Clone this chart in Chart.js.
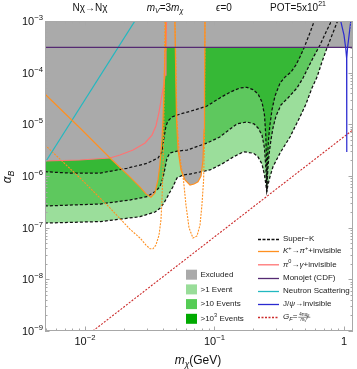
<!DOCTYPE html>
<html>
<head>
<meta charset="utf-8">
<script src="https://cdn.jsdelivr.net/npm/chart.js@4.4.1/dist/chart.umd.min.js"></script>
<style>
  html, body { margin: 0; padding: 0; background: #fff; }
  #wrap { width: 357px; height: 369px; }
</style>
</head>
<body>
<div id="wrap"><canvas id="c" width="357" height="369"></canvas></div>
<script>
// axis ranges (m_chi in GeV, alpha_B)
const massMin = 0.00491, massMax = 1.174;
const alphaMin = 1e-9, alphaMax = 1e-3;
const yTickPowers = [-9, -8, -7, -6, -5, -4, -3];
const xTickValues = [0.01, 0.1, 1];
const xTickLabels = [['10', '−2'], ['10', '−1'], ['1', '']];

// Super-K event contours
const sk1Mass = [0.0049, 0.0131, 0.0266, 0.0347, 0.0379, 0.0407, 0.0427, 0.0453, 0.0478, 0.0513, 0.0571, 0.0647, 0.0923, 0.1143, 0.1407, 0.168, 0.2008, 0.217, 0.2327, 0.2432, 0.2498, 0.2532, 0.2588, 0.268, 0.283, 0.321, 0.383, 0.418, 0.457, 0.509, 0.566, 0.619, 0.676, 0.739, 0.822, 0.899, 0.932];
const sk1Alpha = [1.23e-7, 1.31e-7, 1.63e-7, 2.01e-7, 2.37e-7, 3.0e-7, 3.7e-7, 4.9e-7, 6.2e-7, 9.15e-7, 1.05e-6, 1.09e-6, 1.31e-6, 1.71e-6, 2.36e-6, 2.95e-6, 2.75e-6, 2.33e-6, 1.71e-6, 1.05e-6, 6.7e-7, 4.97e-7, 6.7e-7, 9.6e-7, 1.51e-6, 2.79e-6, 5.69e-6, 8.9e-6, 1.39e-5, 2.48e-5, 5.05e-5, 8.2e-5, 1.61e-4, 3.0e-4, 5.9e-4, 1.05e-3, 1.37e-3];

const sk10Mass = [0.0049, 0.0131, 0.0222, 0.0301, 0.0353, 0.0379, 0.0400, 0.0415, 0.043, 0.0453, 0.0523, 0.0614, 0.0875, 0.110, 0.132, 0.149, 0.178, 0.2018, 0.217, 0.2327, 0.2432, 0.2498, 0.2532, 0.258, 0.2634, 0.273, 0.283, 0.2985, 0.326, 0.3694, 0.4335, 0.4826, 0.527, 0.5763, 0.653, 0.739, 0.822, 0.853];
const sk10Alpha = [2.63e-7, 2.87e-7, 3.43e-7, 3.98e-7, 5.13e-7, 6.2e-7, 9.15e-7, 1.43e-6, 2.23e-6, 2.79e-6, 3.05e-6, 3.18e-6, 4.35e-6, 5.69e-6, 8.1e-6, 1.02e-5, 1.11e-5, 1.02e-5, 8.5e-6, 6.2e-6, 3.48e-6, 1.31e-6, 4.97e-7, 1.31e-6, 2.55e-6, 5.0e-6, 8.5e-6, 1.45e-5, 2.37e-5, 3.24e-5, 5.05e-5, 7.9e-5, 1.23e-4, 1.92e-4, 3.43e-4, 6.7e-4, 1.14e-3, 1.49e-3];

const sk1000Mass = [0.0049, 0.00766, 0.0131, 0.0211, 0.0301, 0.0366, 0.0393, 0.0407, 0.0422, 0.0437, 0.047, 0.0542, 0.0707, 0.0875, 0.110, 0.132, 0.157, 0.178, 0.198, 0.217, 0.2327, 0.2432, 0.2489, 0.2521, 0.2532, 0.2566, 0.2612, 0.268, 0.278, 0.2932, 0.321, 0.350, 0.390, 0.426, 0.457, 0.491, 0.546, 0.597, 0.62];
const sk1000Alpha = [1.21e-6, 1.14e-6, 1.14e-6, 1.41e-6, 1.76e-6, 2.23e-6, 2.92e-6, 5.4e-6, 9.3e-6, 1.16e-5, 1.39e-5, 1.58e-5, 1.9e-5, 2.26e-5, 3.24e-5, 4.2e-5, 5.05e-5, 5.2e-5, 4.7e-5, 3.87e-5, 2.71e-5, 1.52e-5, 6.2e-6, 2.04e-6, 4.97e-7, 2.04e-6, 5.0e-6, 9.7e-6, 1.9e-5, 3.54e-5, 6.3e-5, 8.2e-5, 1.03e-4, 1.41e-4, 2.01e-4, 3.0e-4, 5.9e-4, 1.09e-3, 1.43e-3];

// lower edge of the excluded (grey) region
const exclMass = [0.0049, 0.00915, 0.0156, 0.0222, 0.0266, 0.0296, 0.0323, 0.0347, 0.0366, 0.0379, 0.0393, 0.0400, 0.0407, 0.0409, 0.0415, 0.0422, 0.0424, 0.0495, 0.0500, 0.0509, 0.0523, 0.0551, 0.0592, 0.0647, 0.0695, 0.0746, 0.0787, 0.0815, 0.083, 0.0837, 0.0842, 1.2];
const exclAlpha = [1.95e-6, 2.04e-6, 2.23e-6, 9.6e-7, 6.1e-7, 4.5e-7, 3.9e-7, 4.7e-7, 8.4e-7, 1.63e-6, 5.0e-6, 1.21e-5, 4.6e-5, 6.5e-5, 9.0e-5, 2.75e-4, 3.1e-4, 3.1e-4, 1.76e-4, 1.21e-5, 3.2e-6, 1.31e-6, 8.4e-7, 6.7e-7, 7.0e-7, 7.7e-7, 1.0e-6, 2.04e-6, 7.8e-6, 4.6e-5, 3.1e-4, 3.1e-4];

// K+ -> pi+ + invisible (solid: current, dashed: projected)
const kaonLowMass = [0.0049, 0.00915, 0.0156, 0.0222, 0.0266, 0.0296, 0.0323, 0.0347, 0.0366, 0.0379, 0.0393, 0.0400, 0.0407, 0.0415, 0.0419];
const kaonLowAlpha = [3.87e-5, 8.5e-6, 2.23e-6, 9.6e-7, 6.1e-7, 4.5e-7, 3.9e-7, 4.7e-7, 8.4e-7, 1.63e-6, 5.0e-6, 1.21e-5, 4.6e-5, 2.7e-4, 1.3e-3];
const kaonHighMass = [0.0493, 0.0500, 0.0509, 0.0523, 0.0551, 0.0592, 0.0647, 0.0695, 0.0746, 0.0787, 0.0815, 0.083, 0.0837, 0.0845];
const kaonHighAlpha = [1.3e-3, 1.76e-4, 1.21e-5, 3.2e-6, 1.31e-6, 8.4e-7, 6.7e-7, 7.0e-7, 7.7e-7, 1.0e-6, 2.04e-6, 7.8e-6, 4.6e-5, 1.3e-3];
const kaonProjLowMass = [0.0049, 0.00948, 0.0156, 0.0222, 0.0266, 0.0296, 0.0318, 0.0335, 0.0353, 0.0373, 0.0386, 0.0393, 0.0400, 0.0407, 0.0415];
const kaonProjLowAlpha = [4.0e-6, 8.4e-7, 2.4e-7, 9.4e-8, 6.3e-8, 4.6e-8, 3.9e-8, 3.9e-8, 4.6e-8, 7.2e-8, 1.41e-7, 3.4e-7, 1.31e-6, 1.21e-5, 1.3e-3];
const kaonProjHighMass = [0.0495, 0.0513, 0.0532, 0.0551, 0.0576, 0.0602, 0.0636, 0.0682, 0.0733, 0.0773, 0.080, 0.0824, 0.0837, 0.0845];
const kaonProjHighAlpha = [1.3e-3, 1.21e-5, 3.2e-6, 1.63e-6, 8.4e-7, 2.75e-7, 9.9e-8, 6.3e-8, 6.9e-8, 1.13e-7, 2.75e-7, 8.4e-7, 5.0e-6, 1.3e-3];

// pi0 -> gamma + invisible
const pionMass = [0.0049, 0.00915, 0.0156, 0.0186, 0.0235, 0.0291, 0.0329, 0.0353, 0.0373, 0.0393, 0.0407, 0.0415, 0.0422, 0.0426, 0.0428];
const pionAlpha = [1.95e-6, 2.04e-6, 2.23e-6, 2.55e-6, 3.18e-6, 4.35e-6, 6.2e-6, 9.3e-6, 1.73e-5, 3.7e-5, 6.0e-5, 9.0e-5, 2.75e-4, 1.0e-3, 1.3e-3];

// other limits
const monojetMass = [0.0049, 1.2];
const monojetAlpha = [3.1e-4, 3.1e-4];
const neutronMass = [0.0049, 0.0262];
const neutronAlpha = [1.79e-6, 1.35e-3];
const jpsiMass = [0.92, 1.0, 1.031, 1.048, 1.05, 1.052, 1.065, 1.096, 1.142];
const jpsiAlpha = [1.3e-3, 5.4e-4, 3.0e-4, 1.9e-4, 2.9e-6, 1.9e-4, 3.0e-4, 5.4e-4, 1.3e-3];
const gfMass = [0.0115, 1.2];
const gfAlpha = [1.0e-9, 8.2e-6];

const FONT = '"Liberation Sans", Arial, sans-serif';
const C = {
  grey: '#aaaaaa', light: '#9bde9b', mid: '#5ec85e', dark: '#36b836',
  orange: '#ff9020', pink: '#ff7373', purple: '#552a72', cyan: '#22b8c0',
  blue: '#2a2ad0', red: '#cc2b2b'
};

const pts = (xs, ys) => xs.map((x, i) => ({ x, y: ys[i] }));

function fillSet(xs, ys, color, order) {
  return { data: pts(xs, ys), borderWidth: 0, borderColor: 'rgba(0,0,0,0)', backgroundColor: color, fill: 'end', pointRadius: 0, order };
}
function lineSet(xs, ys, color, width, dash, order) {
  return { data: pts(xs, ys), borderColor: color, borderWidth: width, borderDash: dash || [], fill: false, pointRadius: 0, order };
}

// rich text: segments [text, flags] with i = italic, ^ = superscript, _ = subscript
function drawRich(ctx, segs, x, y, size, align) {
  const parts = segs.map(([t, f = '']) => {
    const small = f.includes('^') || f.includes('_');
    const sz = small ? size * 0.7 : size;
    const font = (f.includes('i') ? 'italic ' : '') + sz + 'px ' + FONT;
    ctx.font = font;
    const dy = f.includes('^') ? -size * 0.38 : (f.includes('_') ? size * 0.28 : 0);
    return { t, font, dy, w: ctx.measureText(t).width };
  });
  const total = parts.reduce((s, p) => s + p.w, 0);
  let cx = align === 'right' ? x - total : (align === 'center' ? x - total / 2 : x);
  ctx.textBaseline = 'middle';
  ctx.textAlign = 'left';
  parts.forEach(p => { ctx.font = p.font; ctx.fillText(p.t, cx, y + p.dy); cx += p.w; });
  return total;
}

const decor = {
  id: 'decor',
  afterDraw(chart) {
    const { ctx, chartArea: a, scales: { x, y } } = chart;
    ctx.save();
    // frame
    ctx.strokeStyle = '#a8a8a8';
    ctx.lineWidth = 1;
    ctx.strokeRect(a.left + 0.5, a.top + 0.5, a.right - a.left - 1, a.bottom - a.top - 1);
    // ticks
    ctx.beginPath();
    for (let p = -10; p <= 0; p++) {
      for (let m = 1; m <= 9; m++) {
        const v = m * Math.pow(10, p);
        const len = m === 1 ? 4.5 : 2.5;
        if (v >= massMin && v <= massMax) {
          const px = Math.round(x.getPixelForValue(v)) + 0.5;
          ctx.moveTo(px, a.bottom); ctx.lineTo(px, a.bottom - len);
          ctx.moveTo(px, a.top); ctx.lineTo(px, a.top + len);
        }
        if (v >= alphaMin * 0.999 && v <= alphaMax * 1.001) {
          const py = Math.round(y.getPixelForValue(v)) + 0.5;
          ctx.moveTo(a.left, py); ctx.lineTo(a.left + len, py);
          ctx.moveTo(a.right, py); ctx.lineTo(a.right - len, py);
        }
      }
    }
    ctx.stroke();

    ctx.fillStyle = '#111';
    // y tick labels
    yTickPowers.forEach(p => {
      const py = y.getPixelForValue(Math.pow(10, p));
      drawRich(ctx, [['10'], ['−' + (-p), '^']], a.left - 2, py + 1, 11, 'right');
    });
    // x tick labels
    xTickValues.forEach((v, i) => {
      const px = x.getPixelForValue(v);
      const [b, s] = xTickLabels[i];
      const segs = s ? [[b], [s, '^']] : [[b]];
      drawRich(ctx, segs, px, a.bottom + 11, 11, 'center');
    });
    // axis titles
    drawRich(ctx, [['m', 'i'], ['χ', 'i_'], ['(GeV)']], 198, 361, 12, 'center');
    ctx.save();
    ctx.translate(8, 177);
    ctx.rotate(-Math.PI / 2);
    drawRich(ctx, [['α', 'i'], ['B', 'i_']], 0, 0, 12, 'center');
    ctx.restore();
    // header
    drawRich(ctx, [['Nχ→Nχ']], 90, 8, 10, 'center');
    drawRich(ctx, [['m', 'i'], ['V', 'i_'], ['=3'], ['m', 'i'], ['χ', 'i_']], 165, 8, 10, 'center');
    drawRich(ctx, [['ϵ', 'i'], ['=0']], 224, 8, 10, 'center');
    drawRich(ctx, [['POT=5x10'], ['21', '^']], 298, 8, 10, 'center');

    // legend: boxes
    const boxes = [
      [C.grey, [['Excluded']]],
      ['#99dd99', [['>1 Event']]],
      ['#55cc55', [['>10 Events']]],
      ['#00aa00', [['>10'], ['3', '^'], [' Events']]]
    ];
    boxes.forEach(([col, segs], i) => {
      const cy = 274.7 + i * 14.7;
      ctx.fillStyle = col;
      ctx.fillRect(186, cy - 5, 11, 10);
      ctx.fillStyle = '#222';
      drawRich(ctx, segs, 200.5, cy, 8, 'left');
    });
    // legend: lines
    const lines = [
      ['#111', [3, 1.5], [['Super−K']]],
      [C.orange, [], [['K', 'i'], ['+', '^'], ['→'], ['π', 'i'], ['+', '^'], ['+invisible']]],
      [C.pink, [], [['π', 'i'], ['0', '^'], ['→'], ['γ', 'i'], ['+invisible']]],
      [C.purple, [], [['Monojet (CDF)']]],
      [C.cyan, [], [['Neutron Scattering']]],
      [C.blue, [], [['J/', ''], ['ψ', 'i'], ['→invisible']]],
      [C.red, [2, 1.5], [['G', 'i'], ['F', 'i_'], ['=']]]
    ];
    const rowY = [239, 251, 264.3, 278, 291, 304, 317];
    lines.forEach(([col, dash, segs], i) => {
      const cy = rowY[i];
      ctx.strokeStyle = col;
      ctx.lineWidth = 1.3;
      ctx.setLineDash(dash);
      ctx.beginPath(); ctx.moveTo(258, cy + 0.5); ctx.lineTo(279, cy + 0.5); ctx.stroke();
      ctx.setLineDash([]);
      ctx.fillStyle = '#222';
      const w = drawRich(ctx, segs, 283, cy, 8, 'left');
      if (i === 6) {
        const fx = 283 + w + 1;
        ctx.font = 'italic 4.5px ' + FONT;
        const nw = ctx.measureText('4πα').width + 4;
        drawRich(ctx, [['4π'], ['α', 'i'], ['B', 'i_']], fx + nw / 2, cy - 2.5, 4.5, 'center');
        drawRich(ctx, [['m', 'i'], ['V', 'i_'], ['2', '^']], fx + nw / 2, cy + 3, 4.5, 'center');
        ctx.strokeStyle = '#222'; ctx.lineWidth = 0.5;
        ctx.beginPath(); ctx.moveTo(fx, cy + 0.3); ctx.lineTo(fx + nw, cy + 0.3); ctx.stroke();
      }
    });
    ctx.restore();
  }
};

new Chart(document.getElementById('c'), {
  type: 'line',
  data: {
    datasets: [
      fillSet(sk1Mass, sk1Alpha, C.light, 20),
      fillSet(sk10Mass, sk10Alpha, C.mid, 19),
      fillSet(sk1000Mass, sk1000Alpha, C.dark, 18),
      fillSet(exclMass, exclAlpha, C.grey, 17),
      lineSet(gfMass, gfAlpha, C.red, 1.1, [2, 1.5], 12),
      lineSet(sk1Mass, sk1Alpha, '#111', 1.25, [3, 2], 11),
      lineSet(sk10Mass, sk10Alpha, '#111', 1.25, [3, 2], 11),
      lineSet(sk1000Mass, sk1000Alpha, '#111', 1.25, [3, 2], 11),
      lineSet(kaonProjLowMass, kaonProjLowAlpha, C.orange, 1.1, [2, 1.2], 10),
      lineSet(kaonProjHighMass, kaonProjHighAlpha, C.orange, 1.1, [2, 1.2], 10),
      lineSet(neutronMass, neutronAlpha, C.cyan, 1.2, null, 8),
      lineSet(pionMass, pionAlpha, C.pink, 1.2, null, 7),
      lineSet(kaonLowMass, kaonLowAlpha, C.orange, 1.2, null, 6),
      lineSet(kaonHighMass, kaonHighAlpha, C.orange, 1.2, null, 6),
      lineSet(monojetMass, monojetAlpha, C.purple, 1.3, null, 5),
      lineSet(jpsiMass, jpsiAlpha, C.blue, 1.2, null, 4)
    ]
  },
  options: {
    responsive: false,
    animation: false,
    devicePixelRatio: 1,
    layout: { padding: { left: 45, top: 21, right: 4, bottom: 38 } },
    elements: { line: { tension: 0 } },
    plugins: { legend: { display: false }, tooltip: { enabled: false } },
    scales: {
      x: { type: 'logarithmic', min: massMin, max: massMax, display: false },
      y: { type: 'logarithmic', min: alphaMin, max: alphaMax, display: false }
    }
  },
  plugins: [decor]
});
</script>
</body>
</html>
